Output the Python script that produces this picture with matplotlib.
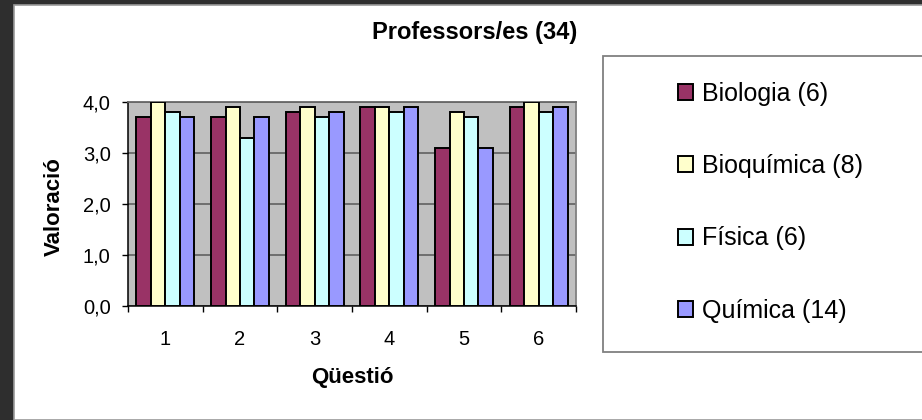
import matplotlib
matplotlib.use("Agg")
import matplotlib.pyplot as plt
from matplotlib.patches import Rectangle
import numpy as np

plt.rcParams['font.family'] = ['Liberation Sans', 'DejaVu Sans']

questions = ['1', '2', '3', '4', '5', '6']
series_names = ['Biologia (6)', 'Bioquímica (8)', 'Física (6)', 'Química (14)']
biologia = [3.7, 3.7, 3.8, 3.9, 3.1, 3.9]
bioquimica = [4.0, 3.9, 3.9, 3.9, 3.8, 4.0]
fisica = [3.8, 3.3, 3.7, 3.8, 3.7, 3.8]
quimica = [3.7, 3.7, 3.8, 3.9, 3.1, 3.9]
colors = ['#993366', '#FFFFCC', '#CCFFFF', '#9999FF']

W, H = 922, 420
fig = plt.figure(figsize=(W / 100, H / 100), dpi=100, facecolor='#2e2e2e')

# white chart area inside the dark frame
fig.patches.append(Rectangle((14 / W, 0), 1, 1 - 5 / H, transform=fig.transFigure,
                             facecolor='white', edgecolor='#9a9a9a', lw=1.2, zorder=-10))
# legend box
fig.patches.append(Rectangle((603 / W, 1 - 352 / H), 340 / W, 296 / H, transform=fig.transFigure,
                             facecolor='white', edgecolor='#808080', lw=1.3, zorder=-5))

ax = fig.add_axes([128 / W, 1 - 306 / H, (576 - 128) / W, (306 - 102) / H])
ax.set_facecolor('#C0C0C0')

x = np.arange(len(questions))
w = 0.194
for i, (vals, name, col) in enumerate(zip([biologia, bioquimica, fisica, quimica], series_names, colors)):
    ax.bar(x + (i - 1.5) * w, vals, w, color=col, edgecolor='black', linewidth=1.4,
           label=name, zorder=3)

ax.set_xlim(-0.5, 5.5)
ax.set_ylim(0, 4.0)
ax.set_yticks([0, 1, 2, 3, 4])
ax.set_yticklabels(['0,0', '1,0', '2,0', '3,0', '4,0'])
ax.yaxis.grid(True, color='#686868', linewidth=1.3, zorder=1)
ax.set_axisbelow(True)

ax.set_xticks(x)
ax.set_xticklabels(questions)
ax.set_xticks(np.arange(-0.5, 6.0, 1.0), minor=True)
ax.tick_params(axis='x', which='major', length=0, pad=17, labelsize=14.5)
ax.tick_params(axis='x', which='minor', length=4.5, width=1, color='black', direction='out')
ax.tick_params(axis='y', length=4.5, width=1, pad=8, labelsize=14.5, direction='out')

for s in ['left', 'bottom']:
    ax.spines[s].set_color('black')
    ax.spines[s].set_linewidth(1.1)
ax.spines['right'].set_color('#808080')
ax.spines['right'].set_linewidth(1.3)
ax.spines['top'].set_color('#686868')
ax.spines['top'].set_linewidth(1.3)

fig.text(474.5 / W, 1 - 32 / H, 'Professors/es (34)', ha='center', va='center',
         fontsize=17, fontweight='bold')
fig.text(54 / W, 1 - 207 / H, 'Valoració', ha='center', va='center', rotation=90,
         fontsize=16, fontweight='bold')
fig.text(352 / W, 1 - 377 / H, 'Qüestió', ha='center', va='center',
         fontsize=16, fontweight='bold')

handles, labels = ax.get_legend_handles_labels()
fig.legend(handles, labels, loc='upper left', bbox_to_anchor=(665 / W, 1 - 69 / H),
           frameon=False, fontsize=18, handlelength=0.6, handleheight=0.6,
           handletextpad=0.4, labelspacing=1.94, borderpad=0)

fig.savefig('out.png', dpi=100, facecolor=fig.get_facecolor())
